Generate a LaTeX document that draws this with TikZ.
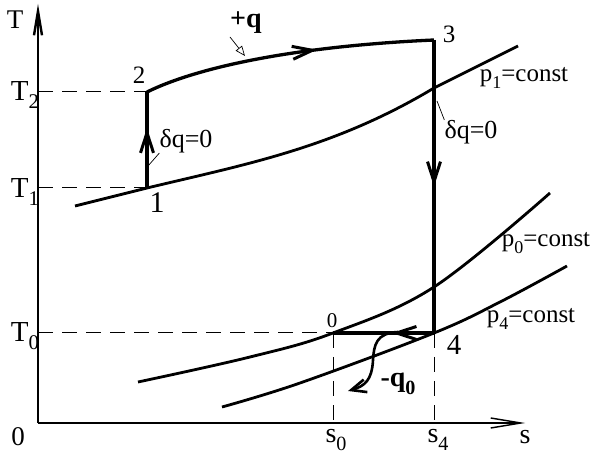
\documentclass[tikz,border=0pt]{standalone}
\usepackage{fontspec}
\setmainfont{Liberation Serif}
\usetikzlibrary{arrows.meta,decorations.markings}
\newcommand\subtx[1]{\raisebox{-0.3em}{\scalebox{0.72}{#1}}}
\tikzset{
  axis/.style={line width=2.8pt},
  proc/.style={line width=3.3pt},
  isobar/.style={line width=2.8pt},
  guide/.style={line width=1pt, dash pattern=on 15pt off 9pt},
  leader/.style={line width=0.7pt},
  lbl/.style={inner sep=0pt, font=\fontsize{#1}{#1}\selectfont},
  boldlbl/.style={inner sep=0pt, font=\fontsize{#1}{#1}\selectfont\bfseries},
  barb/.tip={Straight Barb[length=20pt,width=13pt,line width=3pt]},
  midarrow/.style={postaction={decorate,decoration={markings,mark=at position #1 with {\arrow{barb}}}}},
}
\begin{document}
\begin{tikzpicture}[x=1pt,y=-1pt]
\useasboundingbox (0,0) rectangle (600,470);
% coordinates
\coordinate (O) at (38,423);
\coordinate (Ttop) at (38,4);
\coordinate (Sright) at (525,423);
\coordinate (P1) at (147,188);
\coordinate (P2) at (147,92);
\coordinate (P3) at (434,40);
\coordinate (P4) at (434,333);
\coordinate (P0) at (333,333);
\coordinate (X13) at (434,88);
\coordinate (A2) at (38,92);
\coordinate (A1) at (38,188);
\coordinate (A0) at (38,333);
\coordinate (S0) at (333,423);
\coordinate (S4) at (434,423);
\coordinate (p1a) at (75,206);
\coordinate (p1b) at (518,46);
\coordinate (p0a) at (138,382);
\coordinate (p0b) at (550,193);
\coordinate (p4a) at (222,407);
\coordinate (p4b) at (567,266);
\coordinate (L1) at (148,166);
\coordinate (L2) at (437,101);
\coordinate (Q0s) at (398,332);
\coordinate (Q0e) at (348,391);
\coordinate (Qs) at (230,37);
\coordinate (Qe) at (245,56);

% guides
\draw[guide] (A2) -- (P2);
\draw[guide] (A1) -- (P1);
\draw[guide] (A0) -- (P0);
\draw[guide] (P0) -- (S0);
\draw[guide] (P4) -- (S4);

% axes
\draw[axis, -{Straight Barb[length=24pt,width=8pt,line width=2.4pt]}] (O) -- (Ttop);
\draw[axis, -{Straight Barb[length=30pt,width=10pt,line width=1.4pt]}] (O) -- (Sright);

% isobars
\draw[isobar] (p1a) -- (P1) .. controls (247,164) and (334,148) .. (X13) -- (p1b);
\draw[isobar] plot[smooth, tension=0.6] coordinates {(p0a) (250,357) (P0) (434,287) (p0b)};
\draw[isobar] plot[smooth, tension=0.6] coordinates {(p4a) (300,383) (P4) (500,302) (p4b)};

% process
\draw[proc, midarrow=0.625] (P1) -- (P2);
\draw[proc, midarrow=0.6] (P2) .. controls (200,66) and (300,46) .. (P3);
\draw[proc, midarrow=0.5] (P3) -- (P4);
\draw[proc, midarrow=0.42] (P4) -- (P0);
\draw[line width=2.6pt, -{Straight Barb[length=15pt,width=13pt,line width=2.6pt]}]
  (Q0s) .. controls (376,333) and (374,345) .. (373,360) .. controls (372,380) and (365,386) .. (Q0e);
\draw[line width=0.7pt, -{Triangle[open,length=10pt,width=8pt]}] (Qs) -- (Qe);

% labels
\node[lbl=27] (tT) at (15,20) {T};
\node[lbl=29] (tT2) at (25,95) {T\subtx{2}};
\node[lbl=29] (tT1) at (25,192) {T\subtx{1}};
\node[lbl=29] (tT0) at (25,336) {T\subtx{0}};
\node[lbl=27] (tO) at (18,437) {0};
\node[lbl=28] (ts0) at (336,440) {s\subtx{0}};
\node[lbl=28] (ts4) at (438,440) {s\subtx{4}};
\node[lbl=28] (ts) at (525,437) {s};
\node[lbl=30] (n1) at (157,203) {1};
\node[lbl=25] (n2) at (139,75) {2};
\node[lbl=25] (n3) at (449,34) {3};
\node[lbl=29] (n4) at (454,345) {4};
\node[lbl=21] (n0) at (332,321) {0};
\node[boldlbl=28] (tq) at (246,23) {+q};
\node[boldlbl=28] (tq0) at (398,384) {-q\subtx{0}};
\node[lbl=25] (tp1) at (524,78) {p\subtx{1}=const};
\node[lbl=25] (tp0) at (546,243) {p\subtx{0}=const};
\node[lbl=25] (tp4) at (531,319) {p\subtx{4}=const};
\node[lbl=26] (dq1) at (186,141) {δq=0};
\node[lbl=26] (dq2) at (471,132) {δq=0};
\draw[leader] (L1) -- (dq1.south west);
\draw[leader] (L2) -- (dq2.north west);
\end{tikzpicture}
\end{document}
